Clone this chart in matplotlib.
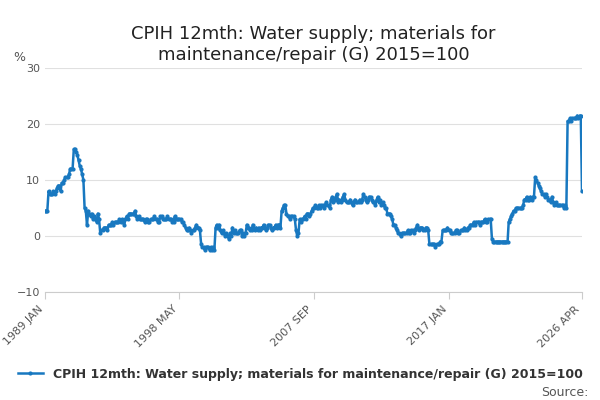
import matplotlib.pyplot as plt
import numpy as np
import pandas as pd
#Місячні значення, по рядку на рік
values = {
    1989: [4.5,4.5,4.5,8,7.5,7.5,7.5,8,7.5,8,8.5,9],
    1990: [9,8,9.5,9.5,10,10.5,10.5,10.5,11,12,12,12],
    1991: [15.5,15.5,15,14.5,13.5,12.5,12,11,10,5,4.5,2],
    1992: [4.5,4,3.5,4,3,3.5,3,2.5,4,3,0.5,1],
    1993: [1,1.5,1.5,1.5,1,2,2,2,2.5,2,2.5,2.5],
    1994: [2.5,2.5,3,2.5,3,2.5,2,3,3.5,3,4,4],
    1995: [4,4,4,4.5,3.5,3,3.5,3,3,3,3,2.5],
    1996: [3,3,2.5,2.5,3,3,3,3.5,3,3,2.5,2.5],
    1997: [3.5,3.5,3,3,3,3,3.5,3,3,3,2.5,2.5],
    1998: [3.5,3,3,3,3,3,2.5,2.5,2,1.5,1,1],
    1999: [1.5,1,0.5,1,1,1.5,2,1.5,1.5,1,-1.5,-2],
    2000: [-2,-2.5,-2,-2,-2,-2.5,-2,-2.5,-2,-2.5,1.5,2],
    2001: [1.5,2,1,0.5,1,0.5,0,0.5,0,-0.5,0.5,0],
    2002: [1.5,0.5,1,0.5,0.5,0.5,1,1,0,0.5,0,0.5],
    2003: [2,1.5,1.5,1,1,2,1.5,1,1.5,1,1.5,1],
    2004: [1.5,1.5,2,1.5,1,1.5,2,2,1.5,1,1.5,1.5],
    2005: [2,1.5,2,2,1.5,4.5,5,5.5,5.5,4,3.5,3.5],
    2006: [3,3.5,3.5,3.5,3,1,0,0.5,3,2.5,3,3],
    2007: [3.5,3,4,4,3.5,4,4.5,5,5,5.5,5,5],
    2008: [5.5,5,5.5,5.5,5,5.5,6,5.5,5.5,5,6.5,7],
    2009: [6,6.5,7,7.5,6,6.5,6,6.5,7,7.5,6.5,6],
    2010: [6,6,6.5,6,5.5,6,6.5,6,6,6,6.5,6],
    2011: [6.5,7.5,7,6.5,6,6.5,7,7,6.5,6,6,5.5],
    2012: [6.5,7,6,6.5,5.5,6,5.5,5,5,4,4,4],
    2013: [3.5,3,2,2,1.5,1,0.5,0.5,0,0.5,0.5,0.5],
    2014: [0.5,0.5,1,0.5,0.5,1,1,0.5,1,1.5,2,1],
    2015: [1.5,1.5,1.5,1,1,1.5,1.5,1,-1.5,-1.5,-1.5,-1.5],
    2016: [-1.5,-2,-1.5,-1.5,-1.5,-1,-1,1,1,1,1,1.5],
    2017: [1,1,0.5,0.5,0.5,0.5,1,1,0.5,0.5,1,1],
    2018: [1,1.5,1,1,1.5,1.5,2,2,2,2.5,2,2.5],
    2019: [2.5,2.5,2,2.5,2.5,2.5,3,2.5,2.5,3,3,3],
    2020: [-0.5,-1,-1,-1,-1,-1,-1,-1,-1,-1,-1,-1],
    2021: [-1,-1,2.5,3,3.5,4,4.5,4.5,5,5,5,5],
    2022: [5,5,5.5,6.5,6.5,7,6.5,6.5,7,6.5,7,7],
    2023: [10.5,10,9.5,9,8.5,8,7.5,7.5,7,7.5,7,6.5],
    2024: [6.5,6,7,6,5.5,6,5.5,5.5,5.5,5.5,5.5,5.5],
    2025: [5,5.5,5,20.5,20.5,21,20.5,21,21,21,21,21.5],
    2026: [21,21.5,21.5,8],
}
y = np.concatenate([values[k] for k in sorted(values)])
x = pd.date_range('1989-01-01', periods=len(y), freq='MS')
label = 'CPIH 12mth: Water supply; materials for maintenance/repair (G) 2015=100'
#Графік
fig, ax = plt.subplots(figsize=(6, 4), dpi=100)
fig.subplots_adjust(left=0.075, right=0.97, top=0.83, bottom=0.27)
ax.plot(x, y, color='#1878c0', linewidth=1.8, marker='o', markersize=2, label=label)
ax.set_title('CPIH 12mth: Water supply; materials for\nmaintenance/repair (G) 2015=100', fontsize=13, color='#222222')
ax.set_ylim(-10, 30)
ax.set_yticks([-10, 0, 10, 20, 30])
ax.set_xlim(x[0], x[-1])
ticks = [x[0], pd.Timestamp('1998-05-01'), pd.Timestamp('2007-09-01'), pd.Timestamp('2017-01-01'), x[-1]]
ax.set_xticks(ticks)
ax.set_xticklabels(['1989 JAN', '1998 MAY', '2007 SEP', '2017 JAN', '2026 APR'], rotation=45, ha='right', fontsize=8, color='#555555')
ax.tick_params(axis='y', labelsize=8, colors='#555555', length=0)
ax.tick_params(axis='x', length=5, color='#cccccc')
ax.grid(axis='y', color='#e0e0e0')
for s in ['top', 'right', 'left']:
    ax.spines[s].set_visible(False)
ax.spines['bottom'].set_color('#cccccc')
ax.text(-0.06, 1.03, '%', transform=ax.transAxes, fontsize=9, color='#555555')
leg = fig.legend(loc='lower center', bbox_to_anchor=(0.5, 0.02), frameon=False, fontsize=9)
for t in leg.get_texts():
    t.set_fontweight('semibold')
    t.set_color('#333333')
fig.text(0.98, 0.01, 'Source:', ha='right', fontsize=9, color='#555555')
#Збереження
fig.savefig('out.png')
